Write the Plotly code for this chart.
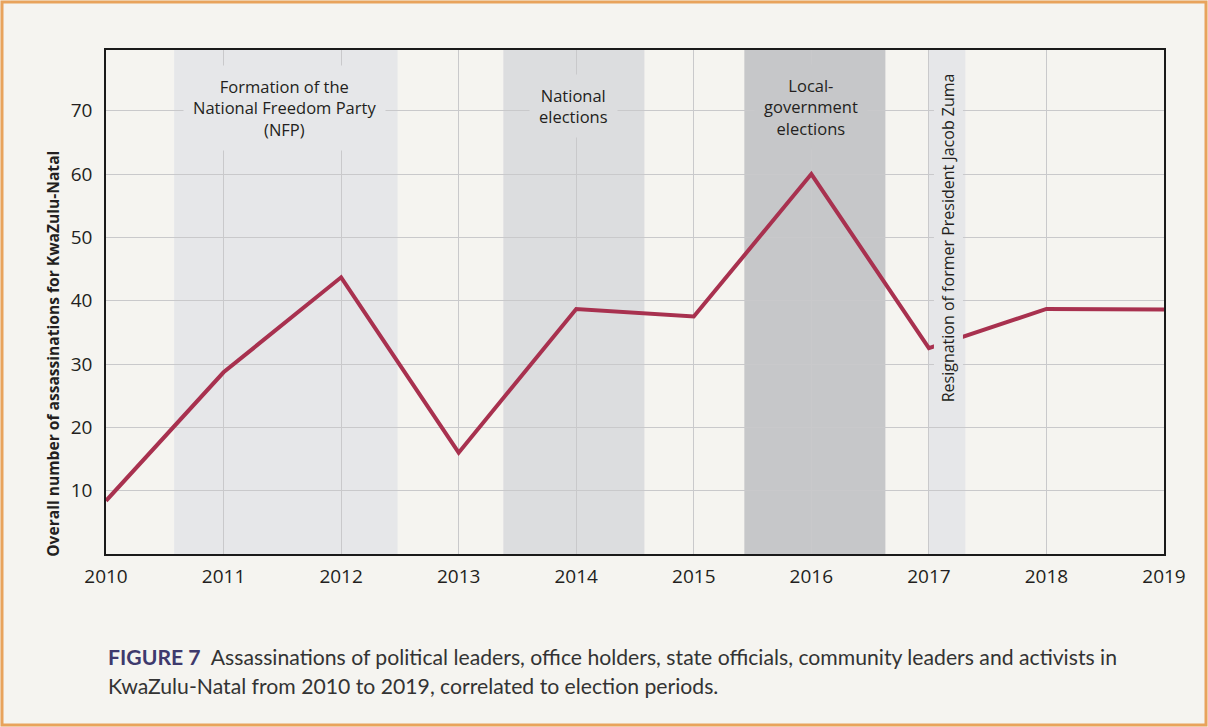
import plotly.graph_objects as go

# data
years = [2010, 2011, 2012, 2013, 2014, 2015, 2016, 2017, 2018, 2019]
assassinations = [8.4, 28.7, 43.7, 16.0, 38.7, 37.5, 60.0, 32.5, 38.7, 38.6]

# periods shaded behind the line
period_starts = [2010.58, 2013.38, 2015.43, 2017.0]
period_ends = [2012.48, 2014.58, 2016.63, 2017.31]
period_colors = ["#e6e7e9", "#dcdddf", "#c6c7c9", "#e6e7e9"]

label_texts = [
    "Formation of the<br>National Freedom Party<br>(NFP)",
    "National<br>elections",
    "Local-<br>government<br>elections",
]
label_x = [2011.52, 2013.98, 2016.0]
label_y = [70.4, 70.8, 70.6]

y_ticks = [10, 20, 30, 40, 50, 60, 70]

BG = "#f5f4f0"
LINE = "#a8314f"
TEXT = "#231f20"
FONT = "Open Sans"

fig = go.Figure()

fig.add_trace(go.Scatter(
    x=years,
    y=assassinations,
    mode="lines",
    line=dict(color=LINE, width=4),
    hoverinfo="x+y",
    showlegend=False,
))

# shaded periods
for x0, x1, c in zip(period_starts, period_ends, period_colors):
    fig.add_shape(
        type="rect", xref="x", yref="paper",
        x0=x0, x1=x1, y0=0, y1=1,
        fillcolor=c, line=dict(width=0), layer="below",
    )

# period labels (boxed so the gridlines stop around them)
for t, x, y, c in zip(label_texts, label_x, label_y, period_colors[:3]):
    fig.add_annotation(
        text=t, x=x, y=y, xref="x", yref="y",
        showarrow=False, bgcolor=c, borderpad=9,
        font=dict(family=FONT, size=16.5, color=TEXT),
    )

fig.add_annotation(
    text="Resignation of former President Jacob Zuma",
    x=2017.17, y=50.0, xref="x", yref="y",
    textangle=-90, showarrow=False, bgcolor=period_colors[3], borderpad=3,
    font=dict(family=FONT, size=16, color=TEXT),
)

# y axis title, set lower than the plot centre as in the source
fig.add_annotation(
    text="<b>Overall number of assassinations for KwaZulu-Natal</b>",
    x=-0.062, y=0.398, xref="paper", yref="paper",
    textangle=-90, showarrow=False,
    font=dict(family=FONT, size=15.6, color=TEXT),
)

# caption
fig.add_annotation(
    text="<b><span style='color:#3e3a6d'>FIGURE 7</span></b>  Assassinations of political leaders, "
         "office holders, state officials, community leaders and activists in",
    x=0.0, y=-0.204, xref="paper", yref="paper", xanchor="left", yanchor="middle",
    showarrow=False, font=dict(family="Lato", size=21.2, color="#333333"),
)
fig.add_annotation(
    text="KwaZulu-Natal from 2010 to 2019, correlated to election periods.",
    x=0.0, y=-0.262, xref="paper", yref="paper", xanchor="left", yanchor="middle",
    showarrow=False, font=dict(family="Lato", size=21.2, color="#333333"),
)

# orange frame round the whole picture
fig.add_shape(
    type="rect", xref="paper", yref="paper",
    x0=-0.0983, x1=1.0397, y0=-0.3393, y1=1.0952,
    line=dict(color="#e8a35c", width=3), fillcolor="rgba(0,0,0,0)",
)

fig.update_xaxes(
    range=[2010, 2019],
    tickvals=years,
    showgrid=True, gridcolor="#c9c9cb", gridwidth=1,
    showline=True, linecolor="#1a1a1a", linewidth=1.5, mirror=True,
    ticks="", zeroline=False, ticklabelstandoff=4,
    tickfont=dict(family=FONT, size=19, color=TEXT),
)
fig.update_yaxes(
    range=[0, 79.6],
    tickvals=y_ticks,
    showgrid=True, gridcolor="#c9c9cb", gridwidth=1,
    showline=True, linecolor="#1a1a1a", linewidth=1.5, mirror=True,
    ticks="", zeroline=False, ticklabelstandoff=8,
    tickfont=dict(family=FONT, size=19, color=TEXT),
)

fig.update_layout(
    width=1208,
    height=727,
    margin=dict(l=106, r=44, t=50, b=173),
    paper_bgcolor=BG,
    plot_bgcolor=BG,
)

# drop the page's default body margin so the figure sits at the window corner
fig.write_html(
    "out.html",
    config={"displayModeBar": False},
    post_script="document.body.style.margin='0';document.body.style.overflow='hidden';",
)
